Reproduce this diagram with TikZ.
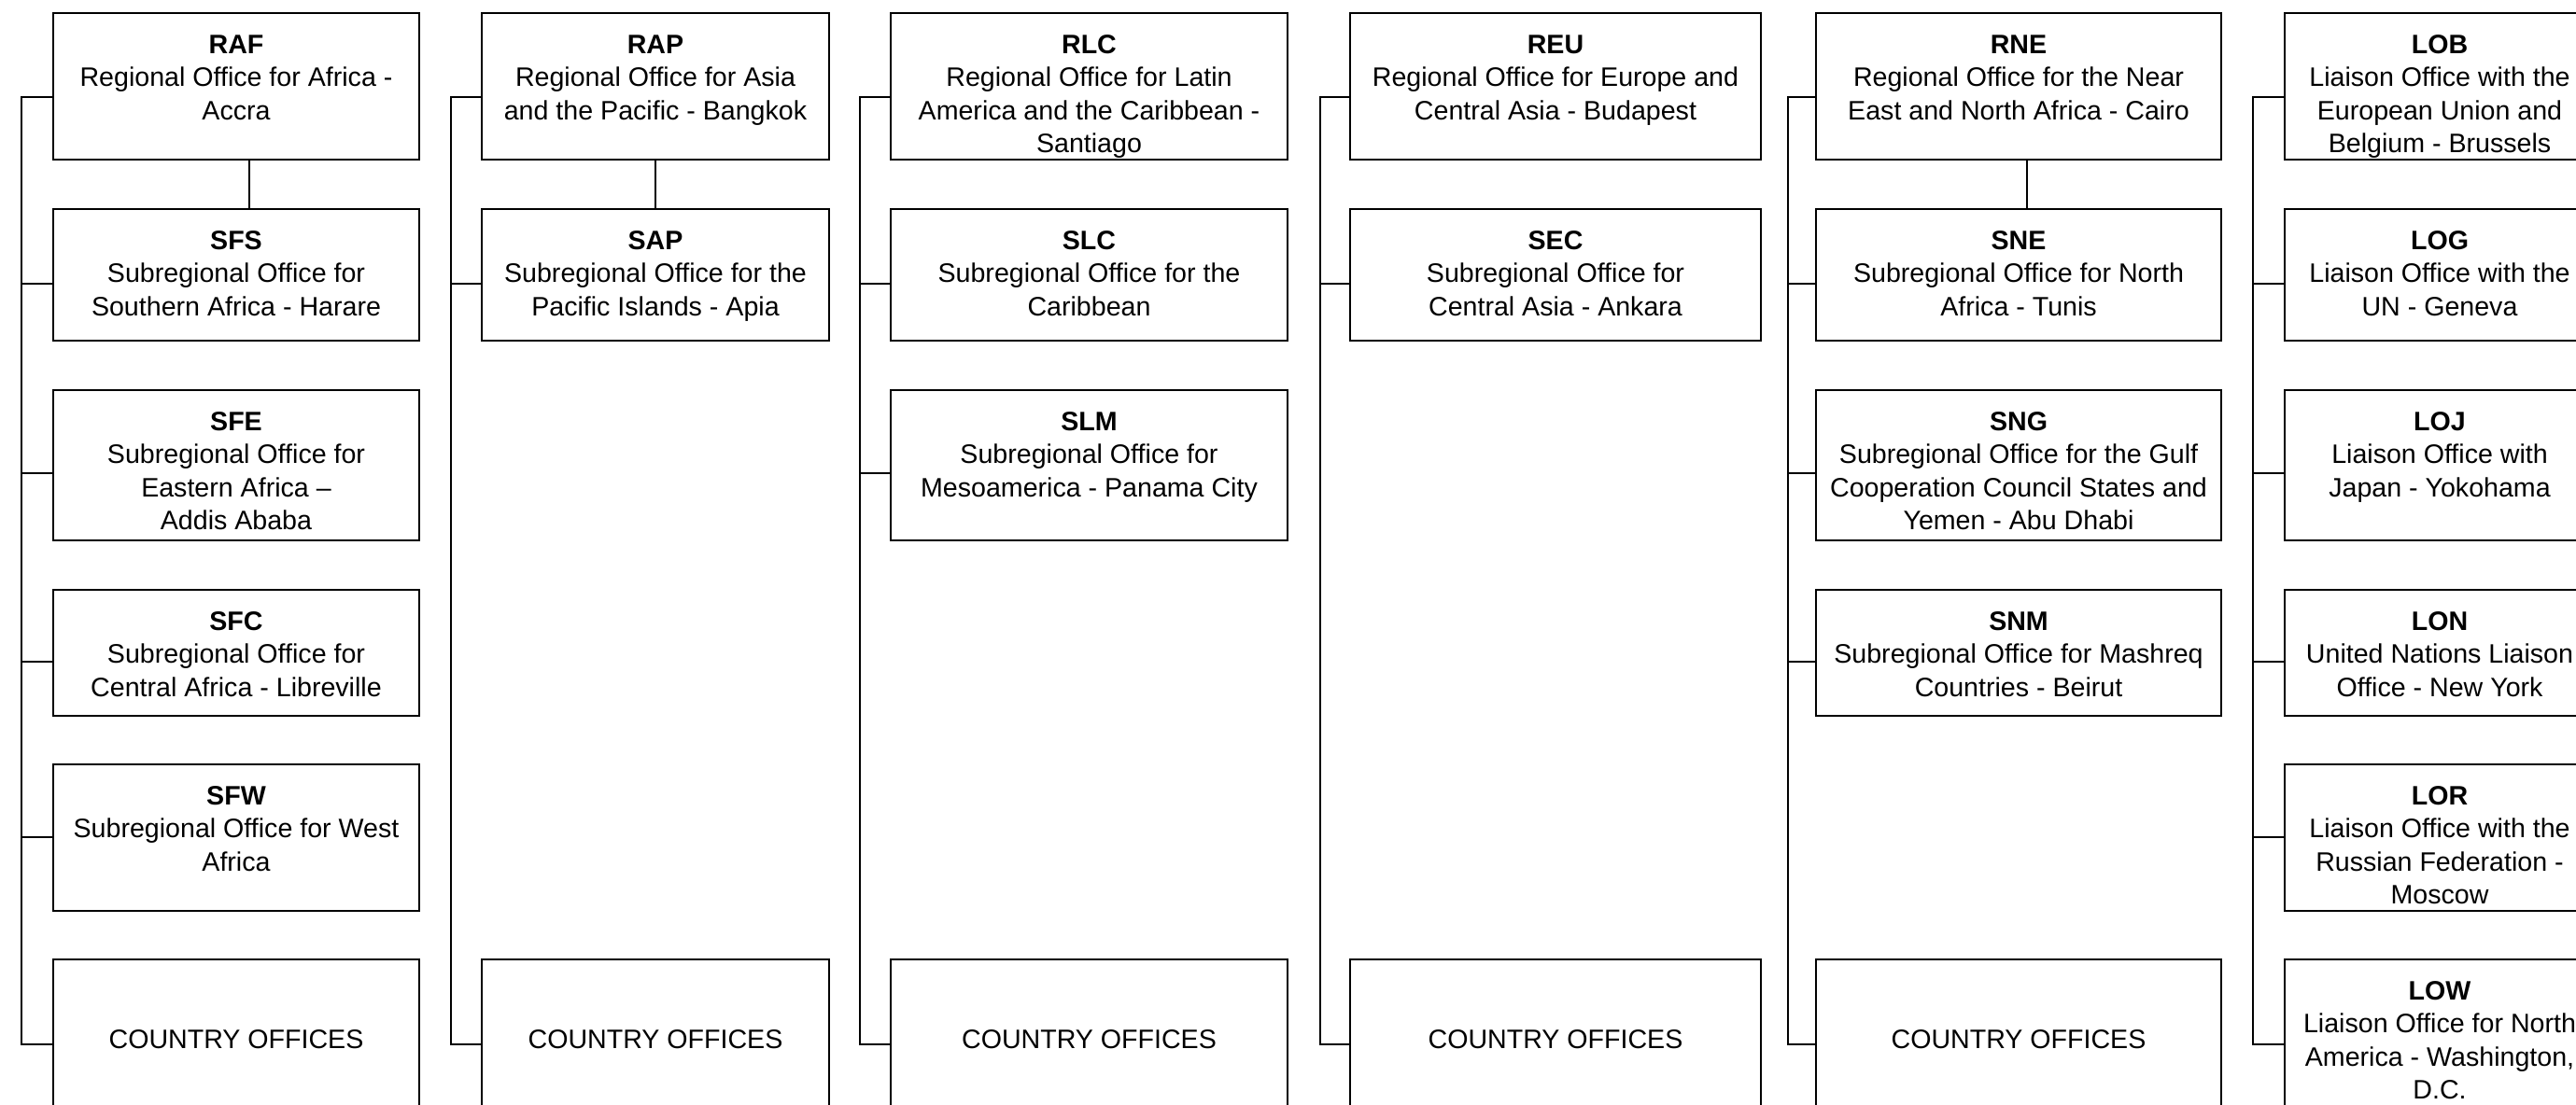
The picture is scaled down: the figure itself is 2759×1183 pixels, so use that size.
\documentclass[tikz,border=0pt]{standalone}
\usepackage{fontspec}
\setmainfont{Liberation Sans}
\tikzset{
  ofbox/.style={draw, rectangle, line width=2pt, inner sep=0pt, outer sep=0pt, anchor=north west},
  oftext/.style={font=\fontsize{28.6}{35.2}\selectfont, align=center, inner sep=0pt, anchor=north},
  cotext/.style={font=\fontsize{28.6}{35.2}\selectfont, inner sep=0pt, anchor=center},
  link/.style={line width=2pt}
}
% name, x, y, w, h, abbreviation, text
\newcommand\OfBox[7]{%
  \node[ofbox, minimum width=#4pt, minimum height=#5pt] (#1) at (#2,#3) {};
  \node[oftext] (#1t) at (#1.north) {\rule{0pt}{43.4pt}\textbf{#6}\\#7};
}
% name, x, w
\newcommand\CoBox[3]{%
  \node[ofbox, minimum width=#3pt, minimum height=190pt] (#1) at (#2,1028) {};
  \node[cotext] (#1t) at (#1.north |- 0,1114) {COUNTRY OFFICES};
}
% bus coordinate, box, y
\newcommand\Conn[3]{\draw[link] (#1 |- 0,#3) -- (#2.west |- 0,#3);}
\begin{document}
\begin{tikzpicture}[x=1pt, y=-1pt]
\useasboundingbox (0,0) rectangle (2759,1183);
\clip (0,0) rectangle (2759,1183);
\fill[white] (0,0) rectangle (2759,1183);

% column 1
\OfBox{RAF}{57}{14}{392}{157}{RAF}{Regional Office for Africa -\\Accra}
\OfBox{SFS}{57}{224}{392}{141}{SFS}{Subregional Office for\\Southern Africa - Harare}
\OfBox{SFE}{57}{418}{392}{161}{SFE}{Subregional Office for\\Eastern Africa --\\Addis Ababa}
\OfBox{SFC}{57}{632}{392}{135}{SFC}{Subregional Office for\\Central Africa - Libreville}
\OfBox{SFW}{57}{819}{392}{157}{SFW}{Subregional Office for West\\Africa}
\CoBox{COA}{57}{392}

% column 2
\OfBox{RAP}{516}{14}{372}{157}{RAP}{Regional Office for Asia\\and the Pacific - Bangkok}
\OfBox{SAP}{516}{224}{372}{141}{SAP}{Subregional Office for the\\Pacific Islands - Apia}
\CoBox{COB}{516}{372}

% column 3
\OfBox{RLC}{954}{14}{425}{157}{RLC}{Regional Office for Latin\\America and the Caribbean -\\Santiago}
\OfBox{SLC}{954}{224}{425}{141}{SLC}{Subregional Office for the\\Caribbean}
\OfBox{SLM}{954}{418}{425}{161}{SLM}{Subregional Office for\\Mesoamerica - Panama City}
\CoBox{COC}{954}{425}

% column 4
\OfBox{REU}{1446}{14}{440}{157}{REU}{Regional Office for Europe and\\Central Asia - Budapest}
\OfBox{SEC}{1446}{224}{440}{141}{SEC}{Subregional Office for\\Central Asia - Ankara}
\CoBox{COD}{1446}{440}

% column 5
\OfBox{RNE}{1945}{14}{434}{157}{RNE}{Regional Office for the Near\\East and North Africa - Cairo}
\OfBox{SNE}{1945}{224}{434}{141}{SNE}{Subregional Office for North\\Africa - Tunis}
\OfBox{SNG}{1945}{418}{434}{161}{SNG}{Subregional Office for the Gulf\\Cooperation Council States and\\Yemen - Abu Dhabi}
\OfBox{SNM}{1945}{632}{434}{135}{SNM}{Subregional Office for Mashreq\\Countries - Beirut}
\CoBox{COE}{1945}{434}

% column 6
\OfBox{LOB}{2447}{14}{332}{157}{LOB}{Liaison Office with the\\European Union and\\Belgium - Brussels}
\OfBox{LOG}{2447}{224}{332}{141}{LOG}{Liaison Office with the\\UN - Geneva}
\OfBox{LOJ}{2447}{418}{332}{161}{LOJ}{Liaison Office with\\Japan - Yokohama}
\OfBox{LON}{2447}{632}{332}{135}{LON}{United Nations Liaison\\Office - New York}
\OfBox{LOR}{2447}{819}{332}{157}{LOR}{Liaison Office with the\\Russian Federation -\\Moscow}
\OfBox{LOW}{2447}{1028}{332}{190}{LOW}{Liaison Office for North\\America - Washington,\\D.C.}

% buses
\coordinate (bA) at (23,1119);
\coordinate (bB) at (483,1119);
\coordinate (bC) at (921,1119);
\coordinate (bD) at (1414,1119);
\coordinate (bE) at (1915,1119);
\coordinate (bF) at (2413,1119);

\draw[link] (RAF.west |- 0,104) -| (bA) -- (COA.west |- bA);
\draw[link] (RAP.west |- 0,104) -| (bB) -- (COB.west |- bB);
\draw[link] (RLC.west |- 0,104) -| (bC) -- (COC.west |- bC);
\draw[link] (REU.west |- 0,104) -| (bD) -- (COD.west |- bD);
\draw[link] (RNE.west |- 0,104) -| (bE) -- (COE.west |- bE);
\draw[link] (LOB.west |- 0,104) -| (bF) -- (LOW.west |- bF);

\Conn{bA}{SFS}{304}
\Conn{bA}{SFE}{507}
\Conn{bA}{SFC}{709}
\Conn{bA}{SFW}{897}
\Conn{bB}{SAP}{304}
\Conn{bC}{SLC}{304}
\Conn{bC}{SLM}{507}
\Conn{bD}{SEC}{304}
\Conn{bE}{SNE}{304}
\Conn{bE}{SNG}{507}
\Conn{bE}{SNM}{709}
\Conn{bF}{LOG}{304}
\Conn{bF}{LOJ}{507}
\Conn{bF}{LON}{709}
\Conn{bF}{LOR}{897}

% parent-child links
\draw[link] ([xshift=14pt]RAF.south) -- ([xshift=14pt]RAF.south |- SFS.north);
\draw[link] (RAP.south) -- (SAP.north);
\draw[link] ([xshift=9pt]RNE.south) -- ([xshift=9pt]RNE.south |- SNE.north);
\end{tikzpicture}
\end{document}
